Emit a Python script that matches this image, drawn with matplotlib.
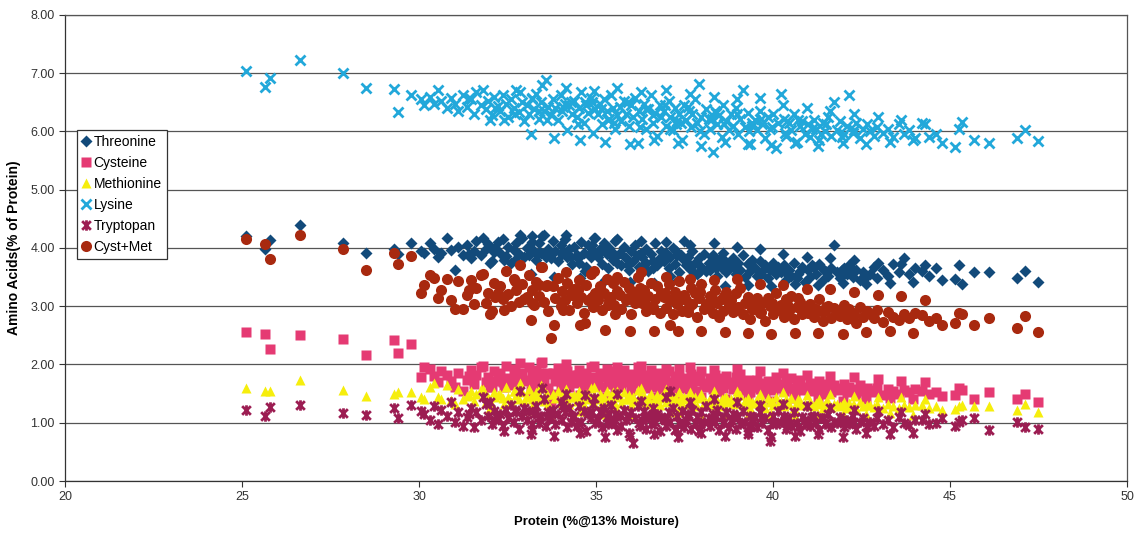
import numpy as np
import matplotlib
matplotlib.use("Agg")
import matplotlib.pyplot as plt
from matplotlib.path import Path

plt.rcParams['font.family'] = ['Liberation Sans', 'DejaVu Sans']

# protein content of each sample (%@13% moisture)
protein = [
    25.12, 25.66, 25.80, 26.65, 27.85, 28.51, 29.29, 29.40, 29.78, 30.05,
    30.15, 30.30, 30.42, 30.55, 30.62, 30.78, 30.90, 31.02, 31.10, 31.25,
    31.35, 31.48, 31.55, 31.62, 31.75, 31.88, 31.95, 32.05, 32.12, 32.22,
    32.30, 32.38, 32.45, 32.52, 32.60, 32.68, 32.75, 32.82, 32.90, 32.97,
    33.05, 33.10, 33.18, 33.25, 33.30, 33.38, 33.45, 33.52, 33.58, 33.65,
    33.72, 33.78, 33.85, 33.92, 34.00, 34.05, 34.12, 34.18, 34.25, 34.32,
    34.38, 34.45, 34.52, 34.58, 34.65, 34.72, 34.78, 34.85, 34.92, 34.98,
    35.05, 35.10, 35.18, 35.22, 35.30, 35.35, 35.42, 35.48, 35.55, 35.60,
    35.68, 35.72, 35.80, 35.85, 35.92, 35.98, 36.05, 36.10, 36.18, 36.22,
    36.30, 36.35, 36.42, 36.48, 36.55, 36.60, 36.68, 36.72, 36.80, 36.85,
    36.92, 36.98, 37.05, 37.10, 37.18, 37.22, 37.30, 37.35, 37.42, 37.48,
    37.55, 37.60, 37.68, 37.72, 37.80, 37.85, 37.92, 37.98, 38.05, 38.10,
    38.18, 38.22, 38.30, 38.35, 38.42, 38.48, 38.55, 38.60, 38.68, 38.75,
    38.82, 38.88, 38.95, 39.02, 39.08, 39.15, 39.22, 39.28, 39.35, 39.42,
    39.50, 39.55, 39.62, 39.70, 39.78, 39.85, 39.92, 40.00, 40.08, 40.15,
    40.22, 40.30, 40.38, 40.45, 40.52, 40.60, 40.68, 40.75, 40.82, 40.90,
    40.98, 41.05, 41.15, 41.22, 41.30, 41.40, 41.48, 41.55, 41.65, 41.72,
    41.80, 41.90, 42.00, 42.10, 42.15, 42.25, 42.35, 42.45, 42.55, 42.65,
    42.75, 42.85, 42.95, 43.10, 43.25, 43.40, 43.55, 43.70, 43.85, 44.00,
    44.20, 44.40, 44.60, 44.78, 45.15, 45.25, 45.34, 45.67, 46.09, 46.89,
    47.13, 47.48, 31.40, 32.15, 32.70, 33.20, 33.62, 34.08, 34.48, 34.88,
    35.15, 35.52, 35.90, 36.25, 36.62, 36.95, 37.25, 37.62, 37.95, 38.28,
    38.62, 38.98, 39.32, 39.65, 39.98, 40.35, 40.70, 41.10, 41.50, 41.95,
    33.40, 34.30, 35.38, 36.40, 37.40, 38.40, 39.40, 40.40, 41.35, 42.30,
    31.80, 32.40, 32.85, 33.15, 33.48, 33.80, 34.15, 34.55, 34.95, 35.25,
    35.58, 35.95, 36.28, 36.65, 36.98, 37.32, 37.65, 37.98, 38.32, 38.65,
    38.98, 39.30, 39.62, 39.95, 40.28, 40.62, 40.95, 41.28, 41.62, 41.98,
    42.30, 42.62, 42.98, 43.30, 43.62, 43.95, 44.30, 32.00, 34.70, 37.08,
]

lysine = [
    7.03, 6.77, 6.92, 7.23, 7.00, 6.74, 6.73, 6.34, 6.62, 6.55,
    6.45, 6.60, 6.48, 6.72, 6.52, 6.40, 6.58, 6.47, 6.35, 6.62,
    6.42, 6.55, 6.30, 6.68, 6.45, 6.38, 6.52, 6.28, 6.60, 6.43,
    6.35, 6.62, 6.48, 6.25, 6.55, 6.40, 6.72, 6.33, 6.50, 6.18,
    6.45, 6.30, 6.58, 6.38, 6.65, 6.22, 6.50, 6.35, 6.88, 6.42,
    6.28, 6.55, 6.40, 6.20, 6.62, 6.35, 6.48, 6.02, 6.45, 6.30,
    6.52, 6.25, 6.40, 6.68, 6.15, 6.45, 6.32, 6.58, 5.98, 6.38,
    6.30, 6.48, 6.12, 6.55, 6.35, 6.20, 6.62, 6.40, 6.05, 6.28,
    6.42, 6.18, 6.52, 6.30, 6.10, 6.45, 6.25, 6.58, 5.80, 6.35,
    6.22, 6.48, 6.05, 6.38, 6.62, 6.15, 6.32, 5.92, 6.45, 6.25,
    6.35, 6.10, 6.52, 6.25, 6.02, 6.40, 6.18, 6.30, 5.85, 6.45,
    6.20, 6.42, 6.08, 6.30, 6.55, 6.15, 6.81, 6.25, 5.95, 6.38,
    6.22, 6.05, 5.65, 6.35, 6.12, 6.28, 5.90, 6.45, 6.18, 6.02,
    6.30, 6.10, 6.40, 5.95, 6.22, 6.71, 6.08, 6.32, 5.78, 6.15,
    6.20, 6.02, 6.35, 6.12, 5.88, 6.25, 6.05, 6.30, 5.72, 6.15,
    6.65, 6.22, 5.92, 6.15, 6.02, 6.30, 5.82, 6.10, 6.18, 5.95,
    6.12, 5.90, 6.20, 6.05, 5.85, 6.15, 6.00, 6.25, 5.92, 6.51,
    6.02, 6.18, 5.95, 6.10, 6.63, 5.98, 6.15, 5.88, 6.05, 6.12,
    6.00, 5.92, 6.08, 5.98, 6.05, 5.90, 6.12, 5.95, 6.02, 5.88,
    6.15, 5.90, 5.95, 5.80, 5.74, 6.05, 6.17, 5.85, 5.80, 5.88,
    6.03, 5.84, 6.58, 6.40, 6.30, 6.55, 6.20, 6.42, 6.12, 6.50,
    6.38, 6.15, 6.50, 6.08, 6.28, 6.45, 6.12, 6.35, 6.00, 6.22,
    6.12, 6.30, 6.00, 6.22, 6.08, 5.98, 6.20, 6.05, 6.12, 5.90,
    6.35, 6.50, 6.22, 6.38, 6.15, 6.32, 6.10, 6.18, 5.95, 6.02,
    6.72, 6.20, 6.68, 5.95, 6.80, 5.88, 6.75, 5.85, 6.70, 5.82,
    6.75, 5.78, 6.68, 5.85, 6.72, 5.80, 6.65, 5.75, 6.60, 5.82,
    6.55, 5.78, 6.58, 5.76, 6.45, 5.80, 6.40, 5.75, 6.35, 5.80,
    6.30, 5.78, 6.25, 5.82, 6.20, 5.85, 6.12, 6.20, 6.50, 6.05,
]

threonine = [
    4.21, 3.99, 4.13, 4.39, 4.08, 3.92, 3.99, 3.90, 4.08, 3.95,
    3.92, 4.08, 3.98, 3.85, 3.91, 4.17, 3.96, 3.62, 4.02, 3.88,
    4.05, 3.82, 3.95, 4.12, 3.88, 3.98, 4.06, 3.78, 3.93, 4.10,
    3.92, 4.15, 3.86, 4.02, 3.75, 3.97, 4.08, 3.90, 4.18, 3.84,
    4.00, 3.88, 4.20, 3.95, 3.80, 4.08, 3.92, 4.22, 3.85, 3.98,
    3.82, 4.12, 3.95, 3.78, 4.05, 3.90, 4.15, 3.85, 3.98, 3.72,
    4.02, 3.88, 3.75, 4.10, 3.92, 3.68, 4.05, 3.85, 3.95, 4.18,
    3.85, 3.98, 3.72, 4.08, 3.90, 3.65, 3.95, 3.80, 4.12, 3.75,
    3.92, 3.70, 4.02, 3.82, 3.62, 3.95, 3.78, 4.05, 3.88, 3.68,
    3.85, 3.72, 3.98, 3.60, 3.90, 3.78, 4.08, 3.70, 3.82, 3.95,
    3.78, 3.92, 3.65, 3.85, 4.00, 3.72, 3.88, 3.58, 3.82, 4.12,
    3.70, 3.85, 3.62, 3.95, 3.75, 3.55, 3.82, 3.68, 3.90, 3.60,
    3.75, 3.62, 3.88, 3.70, 3.52, 3.80, 3.65, 3.92, 3.58, 3.72,
    3.68, 3.82, 3.55, 3.75, 3.62, 3.88, 3.50, 3.72, 3.60, 3.80,
    3.65, 3.52, 3.78, 3.60, 3.70, 3.48, 3.62, 3.75, 3.55, 3.68,
    3.58, 3.70, 3.45, 3.62, 3.52, 3.75, 3.48, 3.60, 3.68, 3.42,
    3.62, 3.50, 3.68, 3.55, 3.72, 3.45, 3.60, 3.52, 3.65, 4.05,
    3.58, 3.48, 3.65, 3.55, 3.70, 3.50, 3.62, 3.45, 3.58, 3.52,
    3.55, 3.68, 3.48, 3.62, 3.52, 3.72, 3.58, 3.82, 3.55, 3.65,
    3.60, 3.52, 3.65, 3.45, 3.46, 3.70, 3.39, 3.59, 3.58, 3.48,
    3.61, 3.42, 3.90, 4.00, 3.80, 4.10, 3.88, 3.95, 3.82, 4.05,
    3.95, 3.82, 3.70, 3.90, 3.65, 3.80, 3.95, 3.72, 3.60, 3.85,
    3.80, 3.62, 3.75, 3.55, 3.68, 3.62, 3.55, 3.70, 3.58, 3.62,
    3.92, 3.85, 4.00, 3.75, 3.88, 3.65, 3.78, 3.55, 3.68, 3.60,
    4.18, 3.80, 4.22, 3.55, 4.20, 3.50, 4.22, 3.48, 4.18, 3.45,
    4.15, 3.42, 4.12, 3.40, 4.10, 3.45, 4.05, 3.38, 4.08, 3.35,
    4.02, 3.36, 3.98, 3.35, 3.90, 3.38, 3.85, 3.36, 3.82, 3.40,
    3.80, 3.38, 3.75, 3.40, 3.72, 3.42, 3.70, 3.75, 3.60, 3.52,
]

cysteine = [
    2.56, 2.52, 2.26, 2.50, 2.43, 2.17, 2.42, 2.19, 2.35, 1.78,
    1.95, 1.92, 1.80, 1.70, 1.88, 1.82, 1.72, 1.62, 1.85, 1.55,
    1.74, 1.90, 1.66, 1.82, 1.95, 1.70, 1.78, 1.62, 1.88, 1.75,
    1.85, 1.70, 1.98, 1.76, 1.64, 1.92, 1.80, 1.68, 1.86, 1.74,
    1.72, 1.96, 1.80, 1.66, 1.90, 1.75, 2.02, 1.70, 1.84, 1.60,
    1.35, 1.85, 1.72, 1.94, 1.66, 1.80, 1.70, 1.88, 1.62, 1.76,
    1.82, 1.68, 1.90, 1.74, 1.58, 1.86, 1.70, 1.96, 1.64, 1.78,
    1.70, 1.85, 1.62, 1.78, 1.92, 1.66, 1.74, 1.88, 1.58, 1.80,
    1.76, 1.62, 1.90, 1.70, 1.84, 1.56, 1.80, 1.68, 1.95, 1.72,
    1.68, 1.82, 1.60, 1.76, 1.90, 1.64, 1.72, 1.86, 1.58, 1.78,
    1.74, 1.62, 1.88, 1.70, 1.56, 1.80, 1.66, 1.92, 1.60, 1.76,
    1.70, 1.58, 1.84, 1.66, 1.78, 1.54, 1.72, 1.88, 1.62, 1.68,
    1.64, 1.76, 1.58, 1.82, 1.68, 1.54, 1.72, 1.60, 1.80, 1.66,
    1.70, 1.58, 1.78, 1.64, 1.84, 1.56, 1.68, 1.74, 1.52, 1.66,
    1.62, 1.74, 1.58, 1.68, 1.50, 1.72, 1.64, 1.56, 1.78, 1.60,
    1.66, 1.54, 1.72, 1.60, 1.76, 1.52, 1.64, 1.70, 1.56, 1.62,
    1.58, 1.68, 1.54, 1.62, 1.72, 1.50, 1.60, 1.66, 1.52, 1.64,
    1.60, 1.56, 1.66, 1.52, 1.62, 1.58, 1.48, 1.64, 1.54, 1.60,
    1.56, 1.52, 1.60, 1.48, 1.58, 1.54, 1.50, 1.56, 1.52, 1.58,
    1.55, 1.50, 1.52, 1.46, 1.48, 1.60, 1.56, 1.40, 1.52, 1.40,
    1.50, 1.36, 1.80, 1.72, 1.90, 1.66, 1.86, 1.60, 1.82, 1.74,
    1.80, 1.66, 1.74, 1.84, 1.62, 1.78, 1.70, 1.64, 1.80, 1.74,
    1.76, 1.62, 1.70, 1.58, 1.68, 1.62, 1.74, 1.56, 1.64, 1.58,
    1.86, 1.78, 1.70, 1.66, 1.74, 1.70, 1.62, 1.68, 1.60, 1.56,
    1.98, 1.62, 2.02, 1.55, 2.05, 1.50, 2.00, 1.48, 1.98, 1.45,
    1.96, 1.42, 1.98, 1.45, 1.92, 1.40, 1.95, 1.44, 1.90, 1.40,
    1.92, 1.40, 1.88, 1.38, 1.85, 1.42, 1.82, 1.40, 1.80, 1.38,
    1.78, 1.40, 1.75, 1.42, 1.72, 1.40, 1.70, 1.62, 1.52, 1.50,
]

methionine = [
    1.59, 1.55, 1.55, 1.73, 1.56, 1.46, 1.49, 1.53, 1.52, 1.44,
    1.41, 1.62, 1.68, 1.45, 1.40, 1.64, 1.39, 1.33, 1.58, 1.40,
    1.46, 1.55, 1.38, 1.50, 1.58, 1.35, 1.44, 1.30, 1.52, 1.48,
    1.50, 1.42, 1.62, 1.45, 1.36, 1.55, 1.48, 1.40, 1.52, 1.38,
    1.44, 1.58, 1.48, 1.36, 1.52, 1.42, 1.65, 1.38, 1.50, 1.32,
    1.10, 1.50, 1.42, 1.55, 1.35, 1.46, 1.40, 1.52, 1.32, 1.44,
    1.48, 1.38, 1.55, 1.42, 1.30, 1.50, 1.40, 1.60, 1.35, 1.45,
    1.40, 1.50, 1.32, 1.45, 1.55, 1.36, 1.42, 1.52, 1.28, 1.46,
    1.44, 1.34, 1.52, 1.40, 1.48, 1.30, 1.45, 1.38, 1.56, 1.42,
    1.38, 1.46, 1.32, 1.42, 1.50, 1.35, 1.40, 1.48, 1.30, 1.44,
    1.42, 1.35, 1.50, 1.40, 1.30, 1.45, 1.38, 1.52, 1.32, 1.44,
    1.40, 1.32, 1.48, 1.38, 1.44, 1.28, 1.42, 1.50, 1.34, 1.36,
    1.36, 1.42, 1.30, 1.46, 1.38, 1.28, 1.40, 1.32, 1.44, 1.36,
    1.40, 1.32, 1.44, 1.35, 1.48, 1.30, 1.38, 1.42, 1.26, 1.36,
    1.34, 1.40, 1.30, 1.38, 1.25, 1.42, 1.36, 1.30, 1.44, 1.33,
    1.36, 1.28, 1.40, 1.32, 1.42, 1.26, 1.34, 1.38, 1.30, 1.32,
    1.30, 1.36, 1.28, 1.34, 1.40, 1.25, 1.32, 1.35, 1.27, 1.33,
    1.32, 1.28, 1.36, 1.26, 1.34, 1.30, 1.24, 1.35, 1.28, 1.31,
    1.30, 1.27, 1.33, 1.25, 1.32, 1.28, 1.26, 1.30, 1.27, 1.31,
    1.30, 1.25, 1.28, 1.22, 1.24, 1.28, 1.30, 1.28, 1.28, 1.22,
    1.33, 1.19, 1.48, 1.44, 1.54, 1.40, 1.50, 1.34, 1.46, 1.42,
    1.46, 1.36, 1.40, 1.48, 1.34, 1.44, 1.38, 1.35, 1.45, 1.40,
    1.42, 1.34, 1.38, 1.32, 1.38, 1.34, 1.40, 1.30, 1.35, 1.30,
    1.50, 1.45, 1.40, 1.36, 1.42, 1.38, 1.34, 1.36, 1.32, 1.30,
    1.58, 1.32, 1.68, 1.22, 1.62, 1.18, 1.58, 1.20, 1.62, 1.15,
    1.55, 1.15, 1.60, 1.12, 1.58, 1.18, 1.52, 1.14, 1.55, 1.15,
    1.55, 1.14, 1.50, 1.15, 1.52, 1.12, 1.48, 1.14, 1.50, 1.15,
    1.46, 1.15, 1.44, 1.16, 1.45, 1.14, 1.40, 1.25, 1.20, 1.18,
]

tryptophan = [
    1.22, 1.12, 1.27, 1.30, 1.16, 1.13, 1.25, 1.08, 1.30, 1.20,
    1.15, 1.05, 1.28, 0.98, 1.22, 1.12, 1.35, 1.02, 1.18, 0.95,
    1.10, 1.25, 0.92, 1.18, 1.05, 1.32, 1.12, 0.98, 1.20, 1.08,
    1.15, 0.95, 1.22, 1.08, 1.30, 1.02, 1.18, 0.90, 1.12, 1.26,
    1.05, 1.20, 0.88, 1.15, 1.28, 1.00, 1.12, 1.40, 0.95, 1.18,
    1.08, 1.22, 0.98, 1.15, 1.35, 1.05, 1.18, 0.92, 1.25, 1.10,
    1.12, 0.95, 1.28, 1.02, 1.20, 0.85, 1.15, 1.08, 1.32, 1.00,
    1.05, 1.18, 0.92, 1.25, 1.10, 0.98, 1.30, 1.02, 1.15, 0.88,
    1.12, 0.95, 1.22, 1.05, 0.82, 1.18, 0.65, 1.08, 1.28, 1.00,
    1.05, 1.20, 0.90, 1.12, 0.98, 1.25, 1.02, 1.15, 0.85, 1.10,
    1.08, 0.95, 1.18, 1.02, 1.26, 0.88, 1.12, 1.00, 1.20, 0.92,
    1.05, 1.15, 0.90, 1.22, 1.00, 1.10, 0.85, 1.18, 1.02, 1.28,
    1.08, 0.95, 1.15, 1.02, 1.22, 0.88, 1.10, 1.00, 1.18, 0.92,
    1.05, 1.15, 0.90, 1.10, 0.98, 1.20, 1.02, 0.85, 1.12, 0.95,
    1.10, 0.92, 1.18, 1.00, 1.08, 0.88, 0.69, 1.12, 0.98, 1.20,
    1.02, 1.12, 0.90, 1.08, 0.95, 1.18, 1.00, 0.85, 1.10, 0.98,
    1.05, 0.95, 1.12, 1.00, 0.88, 1.08, 0.98, 1.15, 0.92, 1.02,
    1.00, 1.10, 0.92, 1.05, 0.98, 1.12, 0.90, 1.02, 1.08, 0.95,
    1.02, 0.95, 1.08, 0.98, 1.05, 0.92, 1.10, 1.00, 0.96, 1.04,
    1.05, 0.98, 1.00, 1.08, 0.95, 1.02, 1.05, 1.08, 0.88, 1.02,
    0.92, 0.90, 1.15, 1.05, 1.22, 0.98, 1.12, 1.30, 1.00, 1.18,
    1.20, 1.00, 1.10, 0.95, 1.15, 1.05, 0.90, 1.12, 0.98, 1.08,
    1.02, 1.12, 0.95, 1.08, 1.00, 1.05, 0.92, 1.10, 1.00, 1.05,
    1.10, 1.02, 1.15, 1.08, 0.98, 1.12, 1.05, 0.95, 1.08, 1.00,
    1.45, 0.85, 1.55, 0.80, 1.60, 0.78, 1.50, 0.82, 1.42, 0.75,
    1.50, 0.78, 1.38, 0.80, 1.45, 0.75, 1.35, 0.82, 1.40, 0.78,
    1.35, 0.80, 1.30, 0.76, 1.32, 0.78, 1.28, 0.80, 1.25, 0.76,
    1.22, 0.82, 1.20, 0.80, 1.18, 0.82, 1.15, 1.35, 1.48, 1.55,
]

# cystine + methionine total per sample
cyst_met = np.array(cysteine) + np.array(methionine)

# asterisk-like marker: an x with a vertical bar
star = Path([(-1, -1), (1, 1), (-1, 1), (1, -1), (0, -1.2), (0, 1.2)],
            [Path.MOVETO, Path.LINETO] * 3)

fig = plt.figure(figsize=(11.41, 5.39), dpi=100)
ax = fig.add_axes([0.057, 0.1076, 0.9307, 0.8646])

ax.plot(protein, threonine, 'D', color='#124a7a', ms=6, mec='none', label='Threonine')
ax.plot(protein, cysteine, 's', color='#e53a73', ms=6.5, mec='none', label='Cysteine')
ax.plot(protein, methionine, '^', color='#f6ee0c', ms=7.5, mec='none', label='Methionine')
ax.plot(protein, lysine, 'x', color='#22a8da', ms=7, mew=2, label='Lysine')
ax.plot(protein, tryptophan, marker=star, ls='none', color='#9c1d52', ms=7.5, mew=2,
        label='Tryptopan')
ax.plot(protein, cyst_met, 'o', color='#a8290f', ms=8, mec='none', label='Cyst+Met')

ax.set_xlim(20, 50)
ax.set_ylim(0, 8)
ax.set_xticks(np.arange(20, 51, 5))
ax.set_yticks(np.arange(0, 8.01, 1))
ax.set_yticklabels(['%.2f' % v for v in np.arange(0, 8.01, 1)])
ax.yaxis.grid(True, color='#555555', lw=0.9)
ax.set_axisbelow(True)
ax.tick_params(labelsize=9, length=4, direction='out', colors='#333333')
for sp in ax.spines.values():
    sp.set_color('#555555')
    sp.set_linewidth(0.9)
ax.spines['bottom'].set_color('#333333')
ax.spines['left'].set_color('#333333')

ax.set_xlabel('Protein (%@13% Moisture)', fontsize=9.4, fontweight='bold', labelpad=9)
ax.set_ylabel('Amino Acids(% of Protein)', fontsize=10, fontweight='bold', labelpad=7)

leg = ax.legend(loc='upper left', bbox_to_anchor=(0.0113, 0.753), fontsize=10,
                frameon=True, fancybox=False, edgecolor='#333333', framealpha=1,
                handlelength=0.6, handletextpad=0.25, borderpad=0.35, labelspacing=0.5,
                borderaxespad=0)
leg.get_frame().set_linewidth(0.9)

fig.savefig('out.png', dpi=100)
